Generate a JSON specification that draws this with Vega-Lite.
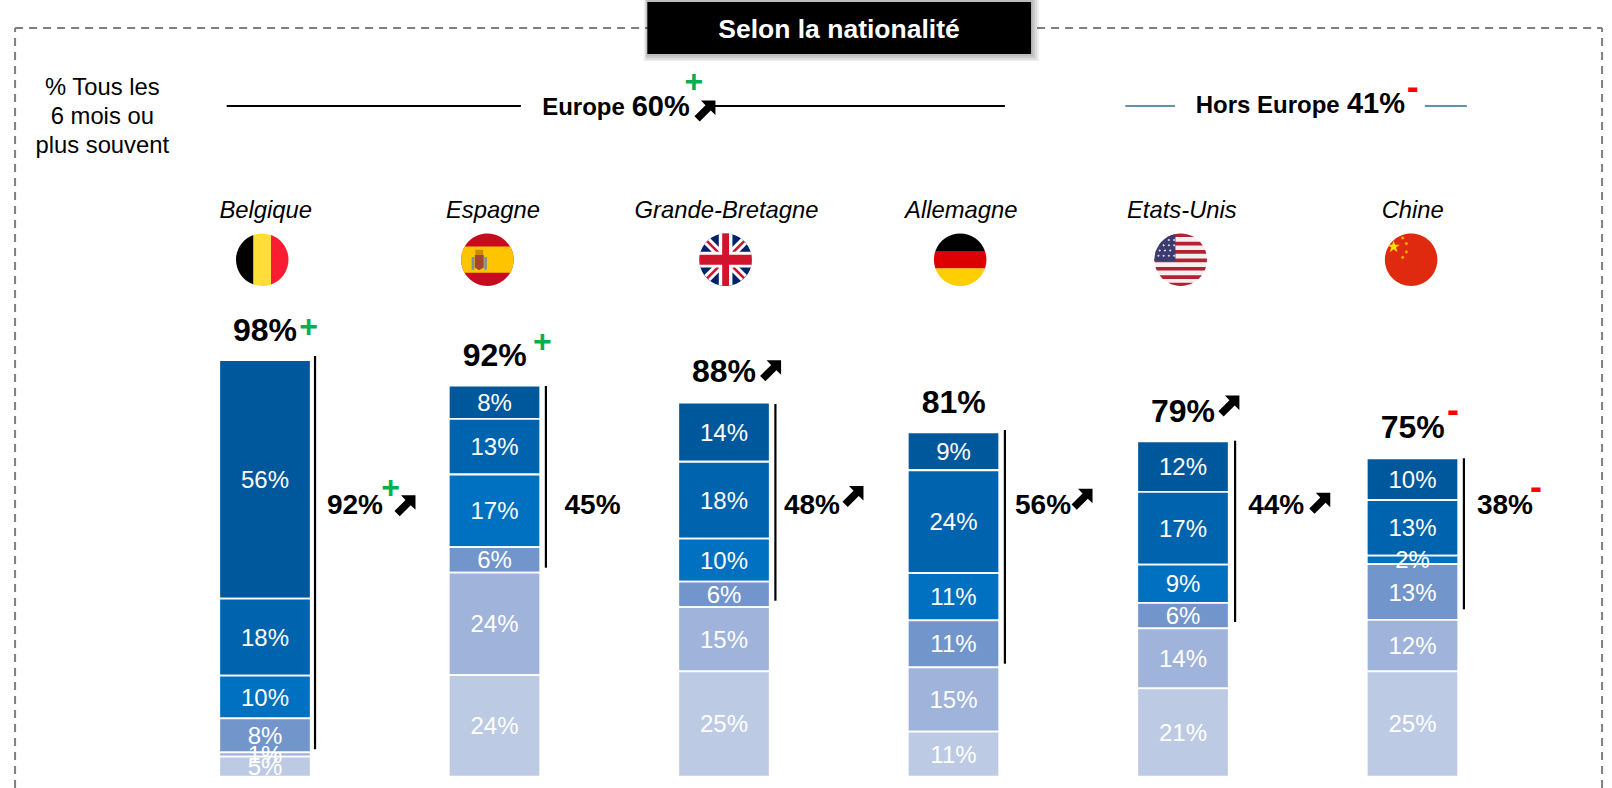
{
"$schema":"https://vega.github.io/schema/vega-lite/v6.json",
"width":1612,"height":788,"padding":0,"background":"white",
"autosize":{"type":"none"},
"config":{"view":{"stroke":null},"font":"Liberation Sans"},
"datasets":{
"bars":[
{"country":"Belgique","col":0,"rank":1,"value":56.1,"label":"56%"},{"country":"Belgique","col":0,"rank":2,"value":18.1,"label":"18%"},{"country":"Belgique","col":0,"rank":3,"value":10.1,"label":"10%"},{"country":"Belgique","col":0,"rank":4,"value":8.0,"label":"8%"},{"country":"Belgique","col":0,"rank":5,"value":1.0,"label":"1%"},{"country":"Belgique","col":0,"rank":6,"value":4.7,"label":"5%"},
{"country":"Espagne","col":1,"rank":1,"value":7.8,"label":"8%"},{"country":"Espagne","col":1,"rank":2,"value":13.1,"label":"13%"},{"country":"Espagne","col":1,"rank":3,"value":17.1,"label":"17%"},{"country":"Espagne","col":1,"rank":4,"value":6.0,"label":"6%"},{"country":"Espagne","col":1,"rank":5,"value":24.1,"label":"24%"},{"country":"Espagne","col":1,"rank":6,"value":23.9,"label":"24%"},
{"country":"Grande-Bretagne","col":2,"rank":1,"value":13.9,"label":"14%"},{"country":"Grande-Bretagne","col":2,"rank":2,"value":18.1,"label":"18%"},{"country":"Grande-Bretagne","col":2,"rank":3,"value":10.1,"label":"10%"},{"country":"Grande-Bretagne","col":2,"rank":4,"value":6.0,"label":"6%"},{"country":"Grande-Bretagne","col":2,"rank":5,"value":15.1,"label":"15%"},{"country":"Grande-Bretagne","col":2,"rank":6,"value":24.8,"label":"25%"},
{"country":"Allemagne","col":3,"rank":1,"value":8.9,"label":"9%"},{"country":"Allemagne","col":3,"rank":2,"value":24.2,"label":"24%"},{"country":"Allemagne","col":3,"rank":3,"value":11.1,"label":"11%"},{"country":"Allemagne","col":3,"rank":4,"value":11.1,"label":"11%"},{"country":"Allemagne","col":3,"rank":5,"value":15.1,"label":"15%"},{"country":"Allemagne","col":3,"rank":6,"value":10.6,"label":"11%"},
{"country":"Etats-Unis","col":4,"rank":1,"value":11.9,"label":"12%"},{"country":"Etats-Unis","col":4,"rank":2,"value":17.1,"label":"17%"},{"country":"Etats-Unis","col":4,"rank":3,"value":9.0,"label":"9%"},{"country":"Etats-Unis","col":4,"rank":4,"value":6.0,"label":"6%"},{"country":"Etats-Unis","col":4,"rank":5,"value":14.1,"label":"14%"},{"country":"Etats-Unis","col":4,"rank":6,"value":20.8,"label":"21%"},
{"country":"Chine","col":5,"rank":1,"value":9.8,"label":"10%"},{"country":"Chine","col":5,"rank":2,"value":13.1,"label":"13%"},{"country":"Chine","col":5,"rank":3,"value":2.0,"label":"2%"},{"country":"Chine","col":5,"rank":4,"value":13.1,"label":"13%"},{"country":"Chine","col":5,"rank":5,"value":12.1,"label":"12%"},{"country":"Chine","col":5,"rank":6,"value":24.8,"label":"25%"}
],
"frameV":[{"col":-1.089,"pct":-2.659,"pct2":176.16},{"col":5.826,"pct":-2.659,"pct2":176.16}],
"frameH":[{"col":-1.089,"col2":5.826,"pct":176.16}],
"shadow":[{"col":1.656,"col2":3.355,"pct":182.75,"pct2":169.1},{"col":1.66,"col2":3.364,"pct":182.75,"pct2":168.7},{"col":1.65,"col2":3.373,"pct":182.75,"pct2":168.4},{"col":1.662,"col2":3.348,"pct":182.75,"pct2":169.5}],
"box":[{"col":1.666,"col2":3.338,"pct":182.28,"pct2":170.05}],
"title":[{"col":2.501,"pct":173.74,"label":"Selon la nationalité"}],
"note":[{"col":-0.709,"pct":160.4,"label":"% Tous les"},{"col":-0.709,"pct":153.58,"label":"6 mois ou"},{"col":-0.709,"pct":146.75,"label":"plus souvent"}],
"blackLine":[{"col":-0.167,"col2":1.115,"pct":157.81},{"col":1.959,"col2":3.224,"pct":157.81}],
"tealLine":[{"col":3.749,"col2":3.965,"pct":157.81},{"col":5.054,"col2":5.237,"pct":157.81}],
"groupName":[{"col":1.388,"pct":155.62,"label":"Europe"},{"col":4.369,"pct":156.24,"label":"Hors Europe"}],
"groupValue":[{"col":1.724,"pct":155.39,"label":"60%"},{"col":4.841,"pct":156.09,"label":"41%"}],
"countryName":[{"col":0.003,"pct":131.39,"label":"Belgique"},{"col":0.993,"pct":131.39,"label":"Espagne"},{"col":2.011,"pct":131.39,"label":"Grande-Bretagne"},{"col":3.034,"pct":131.39,"label":"Allemagne"},{"col":3.995,"pct":131.39,"label":"Etats-Unis"},{"col":5.001,"pct":131.39,"label":"Chine"}],
"totals":[{"col":0,"pct":102.59,"label":"98%"},{"col":1.001,"pct":96.63,"label":"92%"},{"col":2,"pct":92.8,"label":"88%"},{"col":3.001,"pct":85.65,"label":"81%"},{"col":4,"pct":83.53,"label":"79%"},{"col":5.001,"pct":79.62,"label":"75%"}],
"sides":[{"col":0.392,"pct":61.81,"label":"92%"},{"col":1.427,"pct":61.81,"label":"45%"},{"col":2.383,"pct":61.81,"label":"48%"},{"col":3.39,"pct":61.81,"label":"56%"},{"col":4.406,"pct":61.81,"label":"44%"},{"col":5.403,"pct":61.81,"label":"38%"}],
"sideRules":[{"col":0.218,"pct":98.99,"pct2":6.45},{"col":1.224,"pct":91.93,"pct2":49.18},{"col":2.224,"pct":87.69,"pct2":41.41},{"col":3.224,"pct":81.58,"pct2":26.59},{"col":4.227,"pct":79.06,"pct2":36.4},{"col":5.224,"pct":74.92,"pct2":39.39}],
"plus":[{"col":1.869,"pct":163.53,"label":"+"},{"col":0.19,"pct":105.88,"label":"+"},{"col":1.209,"pct":102.21,"label":"+"},{"col":0.547,"pct":68.0,"label":"+"}],
"minus":[{"col":5.176,"pct":86.12,"label":"-"},{"col":5.538,"pct":68.0,"label":"-"},{"col":5.001,"pct":162.05,"label":"-"}],
"arrows":[{"col":0.61,"pct":63.76},{"col":2.203,"pct":95.53},{"col":2.562,"pct":65.93},{"col":3.56,"pct":65.27},{"col":4.2,"pct":87.22},{"col":4.596,"pct":64.33},{"col":1.917,"pct":156.64}],
"flags":[
{"col":-0.012,"pct":121.65,"piece":"be1"},{"col":-0.012,"pct":121.65,"piece":"be2"},{"col":-0.012,"pct":121.65,"piece":"be3"},
{"col":0.969,"pct":121.65,"piece":"es1"},{"col":0.969,"pct":121.65,"piece":"es2"},{"col":0.969,"pct":121.65,"piece":"es3"},{"col":0.969,"pct":121.65,"piece":"es4"},{"col":0.969,"pct":121.65,"piece":"es5"},
{"col":2.007,"pct":121.65,"piece":"uk1"},{"col":2.007,"pct":121.65,"piece":"uk2"},{"col":2.007,"pct":121.65,"piece":"uk3"},{"col":2.007,"pct":121.65,"piece":"uk4"},{"col":2.007,"pct":121.65,"piece":"uk5"},
{"col":3.029,"pct":121.65,"piece":"de1"},{"col":3.029,"pct":121.65,"piece":"de2"},{"col":3.029,"pct":121.65,"piece":"de3"},
{"col":3.99,"pct":121.65,"piece":"us1"},{"col":3.99,"pct":121.65,"piece":"us2"},{"col":3.99,"pct":121.65,"piece":"us3"},{"col":3.99,"pct":121.65,"piece":"us4"},
{"col":4.994,"pct":121.65,"piece":"cn1"},{"col":4.994,"pct":121.65,"piece":"cn2"},{"col":4.994,"pct":121.65,"piece":"cn3"}
]
},
"encoding":{
"x":{"field":"col","type":"quantitative","scale":{"domain":[-1.1547,5.8693],"nice":false,"zero":false,"padding":0},"axis":null},
"y":{"field":"pct","type":"quantitative","scale":{"domain":[-2.659,182.753],"nice":false,"zero":false,"padding":0},"axis":null}
},
"layer":[
{"data":{"name":"frameV"},"mark":{"type":"rule","color":"#7f7f7f","strokeWidth":2,"strokeDash":[8,6]},"encoding":{"y2":{"field":"pct2"}}},
{"data":{"name":"frameH"},"mark":{"type":"rule","color":"#7f7f7f","strokeWidth":2,"strokeDash":[8,6]},"encoding":{"x2":{"field":"col2"}}},
{"data":{"name":"shadow"},"mark":{"type":"rect","color":"#000000","opacity":0.07},"encoding":{"x2":{"field":"col2"},"y2":{"field":"pct2"}}},
{"data":{"name":"box"},"mark":{"type":"rect","color":"#000000"},"encoding":{"x2":{"field":"col2"},"y2":{"field":"pct2"}}},
{"data":{"name":"title"},"mark":{"type":"text","color":"white","fontWeight":"bold","fontSize":26.5,"font":"Liberation Sans","align":"center","baseline":"alphabetic"},"encoding":{"text":{"field":"label"}}},
{"data":{"name":"note"},"mark":{"type":"text","color":"#000000","fontSize":23.8,"font":"Liberation Sans","align":"center","baseline":"alphabetic"},"encoding":{"text":{"field":"label"}}},
{"data":{"name":"blackLine"},"mark":{"type":"rule","color":"#000000","strokeWidth":2},"encoding":{"x2":{"field":"col2"}}},
{"data":{"name":"tealLine"},"mark":{"type":"rule","color":"#5F93A5","strokeWidth":2},"encoding":{"x2":{"field":"col2"}}},
{"data":{"name":"groupName"},"mark":{"type":"text","color":"#000000","fontWeight":"bold","fontSize":24,"font":"Liberation Sans","align":"center","baseline":"alphabetic"},"encoding":{"text":{"field":"label"}}},
{"data":{"name":"groupValue"},"mark":{"type":"text","color":"#000000","fontWeight":"bold","fontSize":29,"font":"Liberation Sans","align":"center","baseline":"alphabetic"},"encoding":{"text":{"field":"label"}}},
{"data":{"name":"countryName"},"mark":{"type":"text","color":"#000000","fontStyle":"italic","fontSize":23.8,"font":"Liberation Sans","align":"center","baseline":"alphabetic"},"encoding":{"text":{"field":"label"}}},
{"data":{"name":"flags"},"mark":{"type":"point","filled":true,"opacity":1,"strokeWidth":0,"size":2756},
 "encoding":{
 "shape":{"field":"piece","type":"nominal","legend":null,"scale":{"domain":["be1","be2","be3","es1","es2","es3","es4","es5","uk1","uk2","uk3","uk4","uk5","de1","de2","de3","us1","us2","us3","us4","cn1","cn2","cn3"],"range":[
 "M-0.333 -0.943 A1 1 0 0 0 -0.333 0.943 Z",
 "M-0.333 -0.943 A1 1 0 0 1 0.333 -0.943 L0.333 0.943 A1 1 0 0 1 -0.333 0.943 Z",
 "M0.333 -0.943 A1 1 0 0 1 0.333 0.943 Z",
 "M-1 0 A1 1 0 1 1 1 0 A1 1 0 1 1 -1 0 Z",
 "M-0.866 -0.5 L0.866 -0.5 A1 1 0 0 1 0.866 0.5 L-0.866 0.5 A1 1 0 0 1 -0.866 -0.5 Z",
 "M-0.48 -0.18 L-0.14 -0.18 L-0.14 0.3 L-0.31 0.4 L-0.48 0.3 Z",
 "M-0.46 -0.38 L-0.16 -0.38 L-0.16 -0.18 L-0.46 -0.18 Z",
 "M-0.6 -0.1 L-0.5 -0.1 L-0.5 0.38 L-0.6 0.38 Z M-0.12 -0.1 L-0.02 -0.1 L-0.02 0.38 L-0.12 0.38 Z",
 "M-1 0 A1 1 0 1 1 1 0 A1 1 0 1 1 -1 0 Z",
 "M0.813 0.587 L0.587 0.813 L-0.813 -0.587 L-0.587 -0.813 Z M0.813 -0.587 L0.587 -0.813 L-0.813 0.587 L-0.587 0.813 Z",
 "M0.735 0.665 L0.665 0.735 L-0.735 -0.665 L-0.665 -0.735 Z M0.735 -0.665 L0.665 -0.735 L-0.735 0.665 L-0.665 0.735 Z",
 "M-0.954 -0.3 L-0.26 -0.3 L-0.26 -0.966 A1 1 0 0 1 0.26 -0.966 L0.26 -0.3 L0.954 -0.3 A1 1 0 0 1 0.954 0.3 L0.26 0.3 L0.26 0.966 A1 1 0 0 1 -0.26 0.966 L-0.26 0.3 L-0.954 0.3 A1 1 0 0 1 -0.954 -0.3 Z",
 "M-0.982 -0.19 L-0.13 -0.19 L-0.13 -0.991 A1 1 0 0 1 0.13 -0.991 L0.13 -0.19 L0.982 -0.19 A1 1 0 0 1 0.982 0.19 L0.13 0.19 L0.13 0.991 A1 1 0 0 1 -0.13 0.991 L-0.13 0.19 L-0.982 0.19 A1 1 0 0 1 -0.982 -0.19 Z",
 "M-0.943 -0.333 A1 1 0 0 1 0.943 -0.333 Z",
 "M-0.943 -0.333 L0.943 -0.333 A1 1 0 0 1 0.943 0.333 L-0.943 0.333 A1 1 0 0 1 -0.943 -0.333 Z",
 "M-0.943 0.333 L0.943 0.333 A1 1 0 0 1 -0.943 0.333 Z",
 "M-1 0 A1 1 0 1 1 1 0 A1 1 0 1 1 -1 0 Z",
 "M-0.51 -0.86 A1 1 0 0 1 0.51 -0.86 Z M-0.729 -0.685 L0.729 -0.685 A1 1 0 0 1 0.838 -0.545 L-0.838 -0.545 A1 1 0 0 1 -0.729 -0.685 Z M-0.931 -0.365 L0.931 -0.365 A1 1 0 0 1 0.974 -0.225 L-0.974 -0.225 A1 1 0 0 1 -0.931 -0.365 Z M-0.999 -0.045 L0.999 -0.045 A1 1 0 0 1 0.995 0.095 L-0.995 0.095 A1 1 0 0 1 -0.999 -0.045 Z M-0.961 0.275 L0.961 0.275 A1 1 0 0 1 0.91 0.415 L-0.91 0.415 A1 1 0 0 1 -0.961 0.275 Z M-0.804 0.595 L0.804 0.595 A1 1 0 0 1 0.678 0.735 L-0.678 0.735 A1 1 0 0 1 -0.804 0.595 Z M-0.475 0.88 A1 1 0 0 0 0.475 0.88 Z",
 "M-0.2 0.05 L-0.2 -0.98 A1 1 0 0 0 -0.999 0.05 Z",
 "M-0.45 -0.8 L-0.4 -0.75 L-0.45 -0.7 L-0.5 -0.75 Z M-0.25 -0.8 L-0.2 -0.75 L-0.25 -0.7 L-0.3 -0.75 Z M-0.65 -0.6 L-0.6 -0.55 L-0.65 -0.5 L-0.7 -0.55 Z M-0.45 -0.6 L-0.4 -0.55 L-0.45 -0.5 L-0.5 -0.55 Z M-0.25 -0.6 L-0.2 -0.55 L-0.25 -0.5 L-0.3 -0.55 Z M-0.8 -0.4 L-0.75 -0.35 L-0.8 -0.3 L-0.85 -0.35 Z M-0.6 -0.4 L-0.55 -0.35 L-0.6 -0.3 L-0.65 -0.35 Z M-0.4 -0.4 L-0.35 -0.35 L-0.4 -0.3 L-0.45 -0.35 Z M-0.85 -0.2 L-0.8 -0.15 L-0.85 -0.1 L-0.9 -0.15 Z M-0.65 -0.2 L-0.6 -0.15 L-0.65 -0.1 L-0.7 -0.15 Z M-0.45 -0.2 L-0.4 -0.15 L-0.45 -0.1 L-0.5 -0.15 Z M-0.25 -0.2 L-0.2 -0.15 L-0.25 -0.1 L-0.3 -0.15 Z",
 "M-1 0 A1 1 0 1 1 1 0 A1 1 0 1 1 -1 0 Z",
 "M-0.667 -0.74 L-0.611 -0.567 L-0.429 -0.567 L-0.576 -0.46 L-0.52 -0.288 L-0.667 -0.394 L-0.814 -0.288 L-0.758 -0.46 L-0.905 -0.567 L-0.723 -0.567 Z",
 "M-0.32 -0.9 L-0.25 -0.83 L-0.32 -0.76 L-0.39 -0.83 Z M-0.18 -0.685 L-0.11 -0.615 L-0.18 -0.545 L-0.25 -0.615 Z M-0.18 -0.365 L-0.11 -0.295 L-0.18 -0.225 L-0.25 -0.295 Z M-0.32 -0.16 L-0.25 -0.09 L-0.32 -0.02 L-0.39 -0.09 Z"
 ]}},
 "color":{"field":"piece","type":"nominal","legend":null,"scale":{"domain":["be1","be2","be3","es1","es2","es3","es4","es5","uk1","uk2","uk3","uk4","uk5","de1","de2","de3","us1","us2","us3","us4","cn1","cn2","cn3"],"range":["#000000","#FFDE3A","#FA1C30","#C60B1E","#FFC400","#A8452E","#C8890C","#7A8FA0","#012169","#FFFFFF","#CF142B","#FFFFFF","#CF142B","#000000","#DD0000","#FFCE00","#F4F0F0","#B22234","#3C3B6E","#D8D8E8","#E02A10","#FFDE00","#F2B000"]}}
 }},
{"data":{"name":"bars"},"transform":[{"stack":"value","groupby":["country"],"sort":[{"field":"rank","order":"descending"}],"as":["y0","y1"]}],
 "mark":{"type":"bar","width":91.5,"stroke":"white","strokeWidth":1.8},
 "encoding":{
 "y":{"field":"y0","type":"quantitative","stack":null,"scale":{"domain":[-2.659,182.753],"nice":false,"zero":false,"padding":0},"axis":null},
 "y2":{"field":"y1"},
 "fill":{"field":"rank","type":"ordinal","legend":null,"scale":{"domain":[1,2,3,4,5,6],"range":["#00589C","#0063AD","#0070C0","#7295CC","#A0B3DA","#BDCAE4"]}}
 }},
{"data":{"name":"bars"},"transform":[{"stack":"value","groupby":["country"],"sort":[{"field":"rank","order":"descending"}],"as":["y0","y1"]},{"fold":["y0","y1"],"as":["edge","edgeValue"]}],
 "mark":{"type":"text","color":"white","fontSize":24,"font":"Liberation Sans","align":"center","baseline":"middle","dy":1.5},
 "encoding":{
 "y":{"aggregate":"mean","field":"edgeValue","type":"quantitative","stack":null,"scale":{"domain":[-2.659,182.753],"nice":false,"zero":false,"padding":0},"axis":null},
 "detail":{"field":"rank","type":"ordinal"},
 "text":{"field":"label"}
 }},
{"data":{"name":"sideRules"},"mark":{"type":"rule","color":"#000000","strokeWidth":2.2},"encoding":{"y2":{"field":"pct2"}}},
{"data":{"name":"totals"},"mark":{"type":"text","color":"#000000","fontWeight":"bold","fontSize":32,"font":"Liberation Sans","align":"center","baseline":"alphabetic"},"encoding":{"text":{"field":"label"}}},
{"data":{"name":"sides"},"mark":{"type":"text","color":"#000000","fontWeight":"bold","fontSize":28,"font":"Liberation Sans","align":"center","baseline":"alphabetic"},"encoding":{"text":{"field":"label"}}},
{"data":{"name":"plus"},"mark":{"type":"text","color":"#00B050","fontWeight":"bold","fontSize":32,"font":"Liberation Sans","align":"center","baseline":"middle"},"encoding":{"text":{"field":"label"}}},
{"data":{"name":"minus"},"mark":{"type":"text","color":"#FF0000","fontWeight":"bold","fontSize":36,"font":"Liberation Sans","align":"center","baseline":"middle"},"encoding":{"text":{"field":"label"}}},
{"data":{"name":"arrows"},"mark":{"type":"point","filled":true,"opacity":1,"strokeWidth":0,"color":"#000000","size":441,"shape":"M-0.38 -1 L1 -1 L1 0.38 L0.55 -0.05 L-0.5 1 L-1 0.5 L0.05 -0.55 Z"}}
],
"resolve":{"scale":{"color":"independent","fill":"independent"}}
}
